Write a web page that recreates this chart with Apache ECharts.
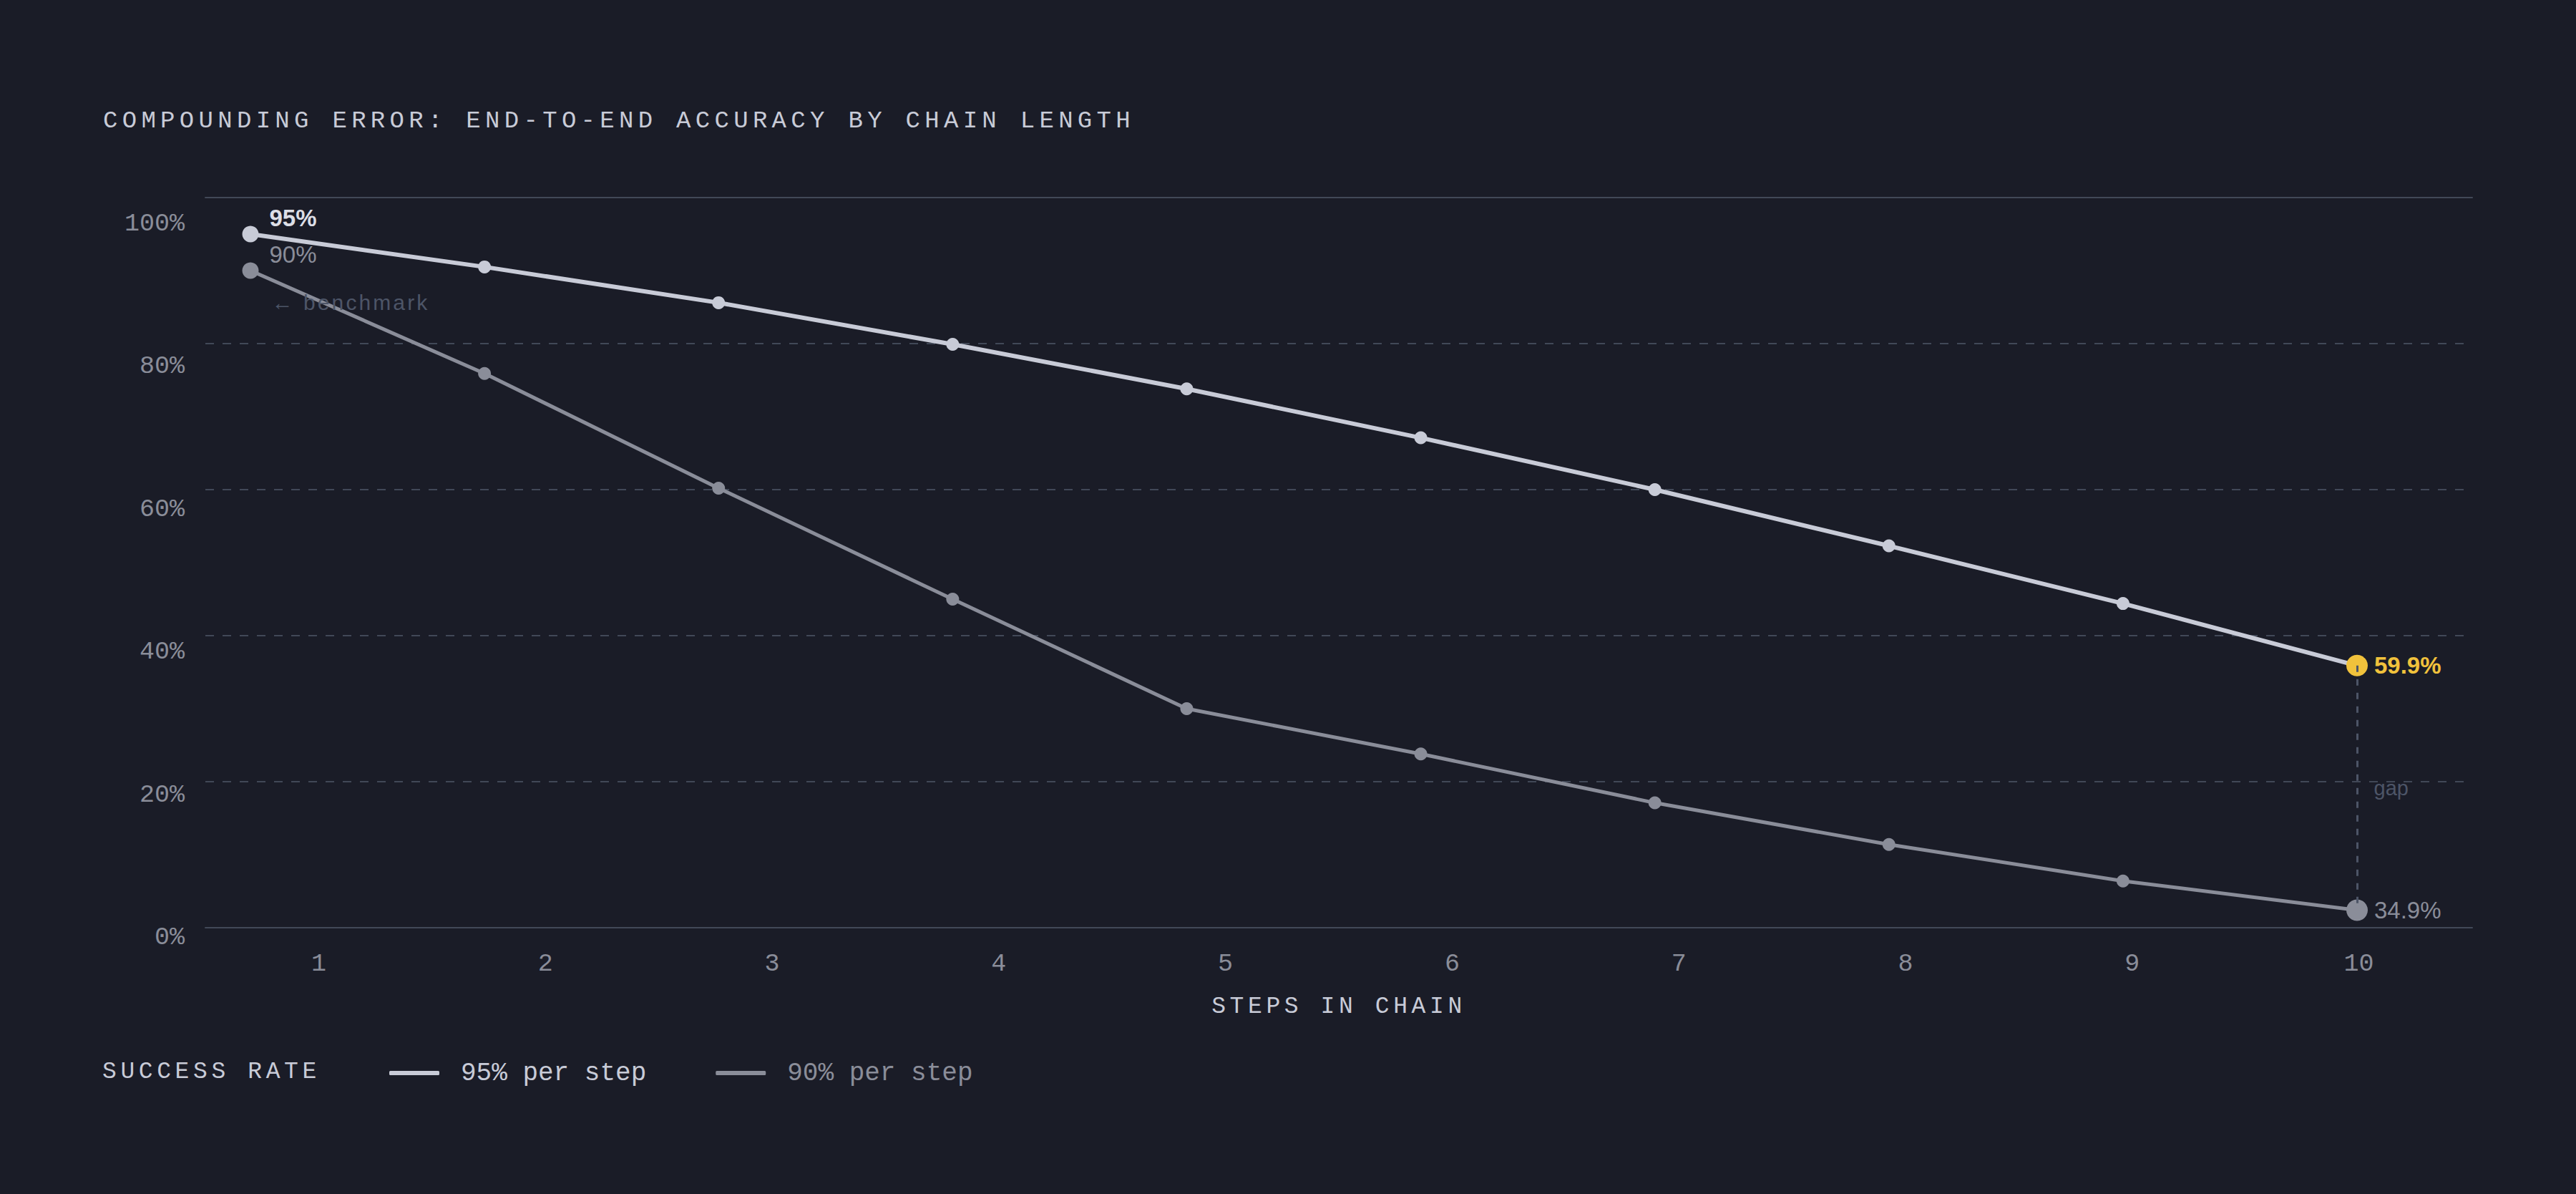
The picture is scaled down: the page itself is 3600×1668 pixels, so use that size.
<!DOCTYPE html>
<html>
<head>
<meta charset="utf-8">
<title>Compounding error</title>
<script src="https://cdn.jsdelivr.net/npm/echarts@6/dist/echarts.min.js"></script>
<style>
  html, body { margin: 0; padding: 0; background: #1a1c27; }
  #chart { width: 3600px; height: 1668px; }
  /* zrender has no letterSpacing, so tracking is put on the svg text by size + family */
  #chart text[style*="34px"][style*="Mono"] { letter-spacing: 6.3px; }
  #chart text[style*="33px"][style*="Mono"] { letter-spacing: 5.6px; }
  #chart text[style*="30px"] { letter-spacing: 3.1px; }
</style>
</head>
<body>
<div id="chart"></div>
<script>
// data (plotted height on the 0-100 grid)
var steps = ['1', '2', '3', '4', '5', '6', '7', '8', '9', '10'];
var rate95 = [95.0, 90.5, 85.6, 79.9, 73.8, 67.1, 60.0, 52.3, 44.4, 35.9];
var rate90 = [90.0, 75.9, 60.2, 45.0, 30.0, 23.8, 17.1, 11.4, 6.4, 2.4];
var yTicks = [0, 20, 40, 60, 80, 100];
var startLabels = ['95%', '90%'];
var endLabels = ['59.9%', '34.9%'];
var seriesNames = ['95% per step', '90% per step'];

var MONO = '"Liberation Mono", "DejaVu Sans Mono", monospace';
var SANS = '"Liberation Sans", Arial, sans-serif';

var BG = '#1a1c27';
var LIGHT = '#c8cbd7';
var GRAY = '#8a8d99';
var YELLOW = '#f1c23c';
var SLATE = '#4d5567';
var RULE = '#414857';

var chart = echarts.init(document.getElementById('chart'), null, { renderer: 'svg' });

function buildData(values, first, last) {
    return values.map(function (v, i) {
        var item = { value: v };
        if (i === 0) {
            item.symbolSize = 23;
            item.label = first;
        }
        if (i === values.length - 1) {
            item.symbolSize = 30;
            item.label = last.label;
            if (last.color) item.itemStyle = { color: last.color };
        }
        return item;
    });
}

var data95 = buildData(rate95, {
    show: true,
    formatter: startLabels[0],
    position: 'right',
    distance: 5,
    offset: [10, -23],
    color: '#dcdee6',
    fontFamily: SANS,
    fontSize: 33,
    fontWeight: 'bold'
}, {
    color: YELLOW,
    label: {
        show: true,
        formatter: endLabels[0],
        position: 'right',
        distance: 5,
        offset: [4, 0],
        color: YELLOW,
        fontFamily: SANS,
        fontSize: 33,
        fontWeight: 'bold'
    }
});

var data90 = buildData(rate90, {
    show: true,
    formatter: '{v|' + startLabels[1] + '}\n{b|← benchmark}',
    position: 'right',
    distance: 5,
    offset: [10, 26],
    rich: {
        v: { color: GRAY, fontFamily: SANS, fontSize: 33, lineHeight: 36 },
        b: { color: SLATE, fontFamily: SANS, fontSize: 30, lineHeight: 98, padding: [0, 0, 0, 3] }
    }
}, {
    label: {
        show: true,
        formatter: endLabels[1],
        position: 'right',
        distance: 5,
        offset: [4, 0],
        color: GRAY,
        fontFamily: SANS,
        fontSize: 33
    }
});

var option = {
    backgroundColor: BG,
    animation: false,
    graphic: [
        {
            type: 'text', x: 144, y: 169,
            style: { text: 'COMPOUNDING ERROR: END-TO-END ACCURACY BY CHAIN LENGTH', fill: LIGHT,
                fontFamily: MONO, fontSize: 34, verticalAlign: 'middle' }
        },
        {
            type: 'text', x: 143, y: 1497,
            style: { text: 'SUCCESS RATE', fill: LIGHT, fontFamily: MONO, fontSize: 33, verticalAlign: 'middle' }
        }
    ],
    legend: {
        left: 539,
        top: 1476,
        itemWidth: 70,
        itemHeight: 6,
        itemGap: 97,
        icon: 'roundRect',
        selectedMode: false,
        textStyle: { fontFamily: MONO, fontSize: 36, padding: [0, 0, 0, 25] },
        data: [
            { name: seriesNames[0], itemStyle: { color: LIGHT }, textStyle: { color: LIGHT } },
            { name: seriesNames[1], itemStyle: { color: GRAY }, textStyle: { color: GRAY } }
        ]
    },
    grid: [
        // frame: rules and step labels
        { left: 287, right: 145, top: 276, bottom: 372 },
        // where the points sit
        { left: 350, right: 306, top: 276, bottom: 372 },
        // percent labels
        { left: 287, right: 145, top: 313, bottom: 358 }
    ],
    xAxis: [
        {
            gridIndex: 0, type: 'category', position: 'bottom', data: steps, boundaryGap: true,
            axisLine: { lineStyle: { color: RULE, width: 2 } },
            axisTick: { show: false },
            axisLabel: { color: GRAY, fontFamily: MONO, fontSize: 35, margin: 33 },
            name: 'STEPS IN CHAIN', nameLocation: 'middle', nameGap: 94,
            nameTextStyle: { color: LIGHT, fontFamily: MONO, fontSize: 33 }
        },
        {
            gridIndex: 0, type: 'category', position: 'top', data: steps,
            axisLine: { lineStyle: { color: RULE, width: 2 } },
            axisTick: { show: false }, axisLabel: { show: false }
        },
        { gridIndex: 1, type: 'category', data: steps, boundaryGap: false, show: false },
        { gridIndex: 2, type: 'value', show: false }
    ],
    yAxis: [
        {
            gridIndex: 0, type: 'value', min: yTicks[0], max: yTicks[yTicks.length - 1], interval: 20,
            axisLine: { show: false }, axisTick: { show: false }, axisLabel: { show: false },
            splitLine: { lineStyle: { color: RULE, width: 2, type: [12, 12] } }
        },
        { gridIndex: 1, type: 'value', min: 0, max: 100, show: false },
        {
            gridIndex: 2, type: 'value', min: yTicks[0], max: yTicks[yTicks.length - 1], interval: 20,
            axisLine: { show: false }, axisTick: { show: false }, splitLine: { show: false },
            axisLabel: { formatter: '{value}%', color: GRAY, fontFamily: MONO, fontSize: 35, margin: 29 }
        }
    ],
    series: [
        {
            name: seriesNames[0],
            type: 'line',
            xAxisIndex: 2,
            yAxisIndex: 1,
            data: data95,
            symbol: 'circle',
            symbolSize: 18,
            z: 4,
            lineStyle: { color: LIGHT, width: 6 },
            itemStyle: { color: LIGHT },
            emphasis: { disabled: true },
            markPoint: {
                silent: true,
                data: [{
                    coord: [9, (rate95[9] + rate90[9]) / 2],
                    symbol: 'circle',
                    symbolSize: 1,
                    itemStyle: { color: 'rgba(0,0,0,0)' },
                    label: {
                        show: true, formatter: 'gap', position: 'right', distance: 0, offset: [23, 0],
                        color: SLATE, fontFamily: SANS, fontSize: 29
                    }
                }]
            }
        },
        {
            name: seriesNames[1],
            type: 'line',
            xAxisIndex: 2,
            yAxisIndex: 1,
            data: data90,
            symbol: 'circle',
            symbolSize: 18,
            z: 3,
            lineStyle: { color: GRAY, width: 5 },
            itemStyle: { color: GRAY },
            emphasis: { disabled: true },
            markLine: {
                silent: true,
                symbol: ['none', 'none'],
                label: { show: false },
                lineStyle: { color: SLATE, width: 3, type: [9, 10] },
                data: [[{ coord: [9, rate95[9]] }, { coord: [9, rate90[9]] }]]
            }
        }
    ]
};

chart.setOption(option);
window.addEventListener('resize', function () { chart.resize(); });
</script>
</body>
</html>
